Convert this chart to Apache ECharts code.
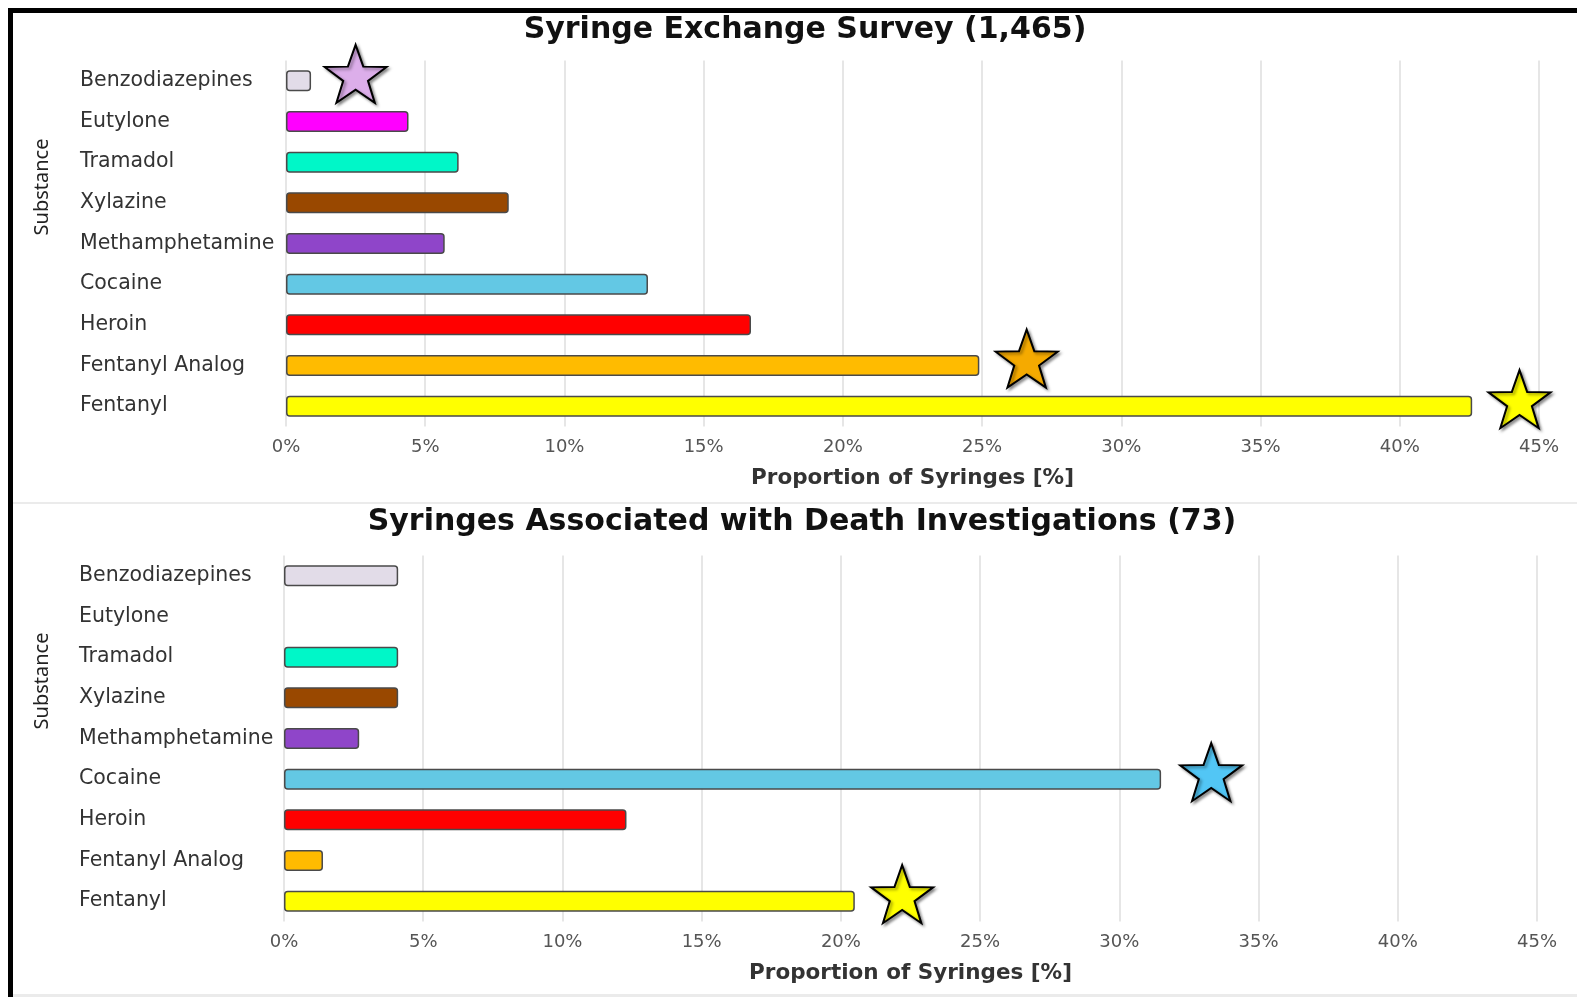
<!DOCTYPE html>
<html>
<head>
<meta charset="utf-8">
<script src="https://cdn.jsdelivr.net/npm/echarts@6/dist/echarts.min.js"></script>
<style>
html, body { margin: 0; padding: 0; background: #fff; }
#chart { position: absolute; left: 0; top: 0; width: 1577px; height: 997px; }
.frame { position: absolute; background: #000; }
.sep { position: absolute; background: #ebebeb; }
</style>
</head>
<body>
<div id="chart"></div>
<div class="frame" style="left:8px;top:8px;width:5px;height:989px"></div>
<div class="frame" style="left:8px;top:8px;width:1569px;height:5px"></div>
<div class="sep" style="left:13px;top:502px;width:1564px;height:2px"></div>
<div class="sep" style="left:13px;top:994px;width:1564px;height:3px"></div>
<script>
// substances, top to bottom
var substances = ['Benzodiazepines', 'Eutylone', 'Tramadol', 'Xylazine', 'Methamphetamine',
  'Cocaine', 'Heroin', 'Fentanyl Analog', 'Fentanyl'];
var barColors = ['#e2dce8', '#ff00ff', '#00f7c8', '#994800', '#8f45c9',
  '#63c8e4', '#ff0000', '#ffbb00', '#ffff00'];

// proportion of syringes [%]
var exchangeValues = [0.9, 4.4, 6.2, 8.0, 5.7, 13.0, 16.7, 24.9, 42.6];
var deathValues = [4.1, 0, 4.1, 4.1, 2.7, 31.5, 12.3, 1.4, 20.5];

var xTicks = [0, 5, 10, 15, 20, 25, 30, 35, 40, 45];

// highlight stars: [value along x, substance]
var exchangeStars = [[2.5, 'Benzodiazepines'], [26.6, 'Fentanyl Analog'], [44.3, 'Fentanyl']];
var exchangeStarColors = ['#dcaeea', '#f5aa00', '#ffff00'];
var deathStars = [[33.3, 'Cocaine'], [22.2, 'Fentanyl']];
var deathStarColors = ['#52c6f5', '#ffff00'];

var starPath = 'path://M0,-50 L11.8,-16 L47.55,-15.45 L19,6.2 L29.39,40.45 L0,20 L-29.39,40.45 L-19,6.2 L-47.55,-15.45 L-11.8,-16 Z';

var chart = echarts.init(document.getElementById('chart'));

function barData(vals) {
  return vals.map(function (v, i) {
    return {
      value: v,
      itemStyle: {
        color: barColors[i],
        borderWidth: v > 0 ? 1.5 : 0
      }
    };
  });
}

function starData(stars, colors) {
  return stars.map(function (s, i) {
    return { value: s, itemStyle: { color: colors[i] } };
  });
}

function xAxisOpt(idx) {
  return {
    gridIndex: idx,
    type: 'value',
    min: xTicks[0],
    max: xTicks[xTicks.length - 1],
    interval: 5,
    axisLine: { show: false },
    axisTick: { show: false },
    splitLine: { lineStyle: { color: '#dedede', width: 1.5 } },
    axisLabel: {
      formatter: '{value}%',
      margin: 12,
      color: '#555',
      fontSize: 18,
      fontFamily: 'DejaVu Sans'
    },
    name: 'Proportion of Syringes [%]',
    nameLocation: 'middle',
    nameGap: 41,
    nameTextStyle: { color: '#333', fontSize: 21.5, fontWeight: 'bold', fontFamily: 'DejaVu Sans' }
  };
}

function yAxisOpt(idx, margin) {
  return {
    gridIndex: idx,
    type: 'category',
    data: substances,
    inverse: true,
    axisLine: { show: false },
    axisTick: { show: false },
    axisLabel: {
      align: 'left',
      margin: margin,
      color: '#333',
      fontSize: 20.5,
      fontFamily: 'DejaVu Sans'
    }
  };
}

function barSeries(idx, vals) {
  return {
    type: 'bar',
    xAxisIndex: idx,
    yAxisIndex: idx,
    barWidth: 21,
    itemStyle: { borderColor: '#4a4a4a', borderRadius: 3 },
    data: barData(vals),
    silent: true
  };
}

function starSeries(idx, stars, colors) {
  return {
    type: 'scatter',
    xAxisIndex: idx,
    yAxisIndex: idx,
    symbol: starPath,
    symbolSize: [62, 58],
    symbolOffset: [0, -7],
    z: 5,
    itemStyle: {
      opacity: 1,
      borderColor: '#000',
      borderWidth: 2,
      shadowBlur: 3,
      shadowOffsetX: 2,
      shadowOffsetY: 2,
      shadowColor: 'rgba(0,0,0,0.4)'
    },
    data: starData(stars, colors),
    silent: true
  };
}

var titleStyle = { fontSize: 30, fontWeight: 'bold', color: '#111', fontFamily: 'DejaVu Sans' };

var option = {
  backgroundColor: 'transparent',
  animation: false,
  title: [
    {
      text: 'Syringe Exchange Survey (1,465)',
      left: 800, top: 10, textAlign: 'center',
      textStyle: titleStyle
    },
    {
      text: 'Syringes Associated with Death Investigations (73)',
      left: 797, top: 502, textAlign: 'center',
      textStyle: titleStyle
    }
  ],
  graphic: [
    {
      type: 'text', x: 42, y: 187, rotation: Math.PI / 2,
      style: { text: 'Substance', fill: '#222', fontSize: 20, fontFamily: 'Noto Sans', align: 'center', verticalAlign: 'middle' }
    },
    {
      type: 'text', x: 42, y: 681, rotation: Math.PI / 2,
      style: { text: 'Substance', fill: '#222', fontSize: 20, fontFamily: 'Noto Sans', align: 'center', verticalAlign: 'middle' }
    }
  ],
  grid: [
    { left: 286, right: 38, top: 60.5, height: 366 },
    { left: 284, right: 40, top: 555.5, height: 366 }
  ],
  xAxis: [xAxisOpt(0), xAxisOpt(1)],
  yAxis: [yAxisOpt(0, 206), yAxisOpt(1, 205)],
  series: [
    barSeries(0, exchangeValues),
    barSeries(1, deathValues),
    starSeries(0, exchangeStars, exchangeStarColors),
    starSeries(1, deathStars, deathStarColors)
  ]
};

chart.setOption(option);
</script>
</body>
</html>
